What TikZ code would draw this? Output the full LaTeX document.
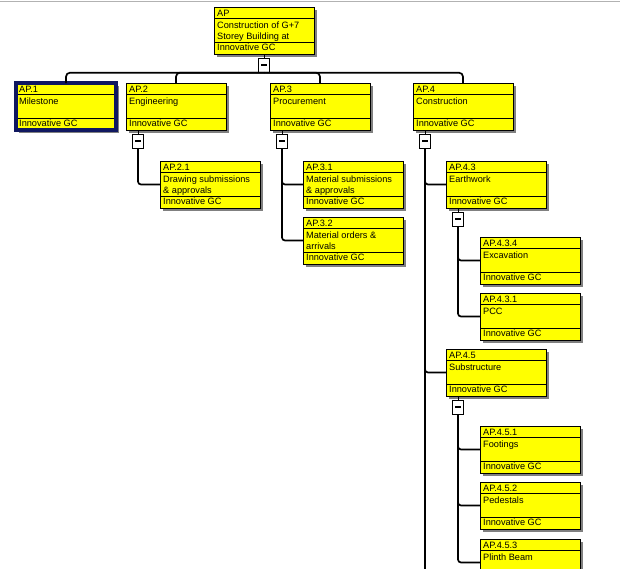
\documentclass[tikz,border=0pt]{standalone}
\usepackage{fontspec}
\setmainfont{Liberation Sans}
\usetikzlibrary{positioning, shadows}

\definecolor{wbsyellow}{RGB}{255,255,0}
\definecolor{wbsshadow}{RGB}{128,128,128}
\definecolor{selnavy}{RGB}{16,24,96}

% Caja WBS: nombre, esquina superior izquierda, código, descripción (2 líneas), responsable
\newcommand{\wbsbox}[6]{%
  \node[wbs] (#1) at (#2) {};
  \begin{scope}
    \clip ([yshift=-11pt]#1.north west) rectangle ([yshift=12pt]#1.south east);
    \node[wbstext] (#1d1) at ([shift={(3pt,-21pt)}]#1.north west) {#4};
    \node[wbstext] (#1d2) at ([shift={(3pt,-32pt)}]#1.north west) {#5};
  \end{scope}
  \node[wbstext] (#1c) at ([shift={(3pt,-9pt)}]#1.north west) {#3};
  \node[wbstext] (#1o) at ([shift={(3pt,4pt)}]#1.south west) {#6};
  \draw[divider] ([yshift=-11pt]#1.north west) -- ([yshift=-11pt]#1.north east);
  \draw[divider] ([yshift=12pt]#1.south west) -- ([yshift=12pt]#1.south east);
}

% Botón de colapso: nombre, ancla del padre, desplazamiento
\newcommand{\collapse}[3]{%
  \node[colbox, below=4pt of #2, xshift=#3] (#1) {};
  \draw[minusbar] ([xshift=-2.7pt]#1.center) -- ([xshift=2.7pt]#1.center);
  \draw[stub] (#2 -| #1.north) -- (#1.north);
}

\begin{document}
\begin{tikzpicture}[x=1pt, y=-1pt,
    wbs/.style={draw=black, line width=0.6pt, fill=wbsyellow, minimum width=100pt,
      minimum height=47pt, inner sep=0pt, outer sep=0pt, anchor=north west,
      general shadow={fill=wbsshadow, shadow xshift=3pt, shadow yshift=-3pt}},
    wbstext/.style={anchor=base west, inner sep=0pt, font=\fontsize{9.2}{11}\selectfont},
    divider/.style={line width=0.5pt},
    colbox/.style={draw=black, line width=0.7pt, fill=white, minimum width=11pt,
      minimum height=14pt, inner sep=0pt},
    minusbar/.style={line width=2pt},
    stub/.style={line width=1pt},
    conn/.style={line width=1.7pt},
    selected/.style={draw=selnavy, line width=3.2pt},
    topline/.style={draw=black!30, line width=1pt}]

  % Marco y línea superior
  \useasboundingbox (0,0) rectangle (620,568);
  \clip (0,0) rectangle (620,568);
  \draw[topline] (0,1.5) -- (620,1.5);
  \coordinate (bottom) at (0,575);

  % Nivel 0
  \wbsbox{ap}{214,7}{AP}{Construction of G+7}{Storey Building at}{Innovative GC}
  \collapse{col0}{ap.south}{0pt}

  % Nivel 1
  \wbsbox{ap1}{16,83}{AP.1}{Milestone}{}{Innovative GC}
  \draw[selected] (ap1.south west) rectangle (ap1.north east);
  \wbsbox{ap2}{126,83}{AP.2}{Engineering}{}{Innovative GC}
  \wbsbox{ap3}{270,83}{AP.3}{Procurement}{}{Innovative GC}
  \wbsbox{ap4}{413,83}{AP.4}{Construction}{}{Innovative GC}
  \foreach \n in {ap1,ap2,ap3,ap4}
    \draw[conn, rounded corners=4pt] (col0.south) -| (\n.north);
  \collapse{col2}{ap2.south west}{12pt}
  \collapse{col3}{ap3.south west}{12pt}
  \collapse{col4}{ap4.south west}{12pt}

  % Nivel 2
  \wbsbox{ap21}{160,161}{AP.2.1}{Drawing submissions}{\& approvals}{Innovative GC}
  \wbsbox{ap31}{303,161}{AP.3.1}{Material submissions}{\& approvals}{Innovative GC}
  \wbsbox{ap32}{303,217}{AP.3.2}{Material orders \&}{arrivals}{Innovative GC}
  \wbsbox{ap43}{446,161}{AP.4.3}{Earthwork}{}{Innovative GC}
  \wbsbox{ap45}{446,349}{AP.4.5}{Substructure}{}{Innovative GC}
  \draw[conn, rounded corners=3pt] (col2.south) |- (ap21.west);
  \foreach \n in {ap31,ap32}
    \draw[conn, rounded corners=3pt] (col3.south) |- (\n.west);
  \draw[conn] (col4.south) -- (col4.south |- bottom);
  \foreach \n in {ap43,ap45}
    \draw[conn, rounded corners=3pt] (col4.south) |- (\n.west);
  \collapse{col43}{ap43.south west}{12pt}
  \collapse{col45}{ap45.south west}{12pt}

  % Nivel 3
  \wbsbox{ap434}{480,237}{AP.4.3.4}{Excavation}{}{Innovative GC}
  \wbsbox{ap431}{480,293}{AP.4.3.1}{PCC}{}{Innovative GC}
  \wbsbox{ap451}{480,426}{AP.4.5.1}{Footings}{}{Innovative GC}
  \wbsbox{ap452}{480,482}{AP.4.5.2}{Pedestals}{}{Innovative GC}
  \wbsbox{ap453}{480,539}{AP.4.5.3}{Plinth Beam}{}{}
  \foreach \n in {ap434,ap431}
    \draw[conn, rounded corners=3pt] (col43.south) |- (\n.west);
  \foreach \n in {ap451,ap452,ap453}
    \draw[conn, rounded corners=3pt] (col45.south) |- (\n.west);
\end{tikzpicture}
\end{document}
